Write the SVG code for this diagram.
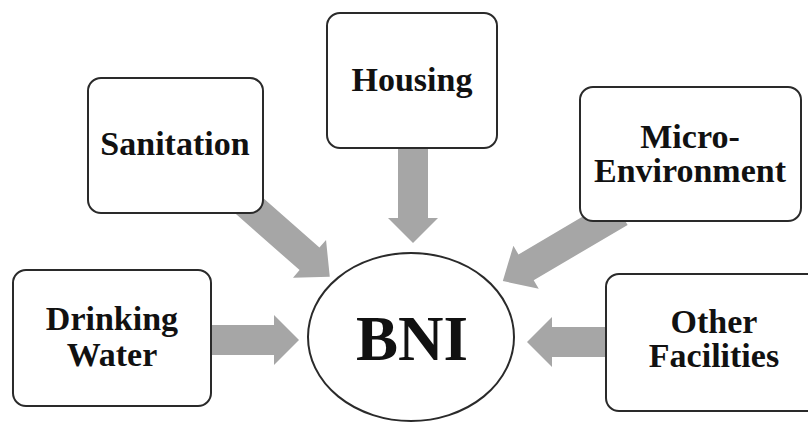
<svg xmlns="http://www.w3.org/2000/svg" width="808" height="426" viewBox="0 0 808 426">
<style>
.box{fill:#fff;stroke:#2a2a2a;stroke-width:2}
.arr{fill:#a6a6a6;stroke:none}
.lbl{font-weight:bold;font-size:34px;fill:#111;text-anchor:middle}
.big{font-size:63px}
</style>
<rect width="808" height="426" fill="#fff"/>
<g id="connectors">
<path class="arr" d="M211,325 L274,325 L274,315 L299,340 L274,365 L274,355 L211,355 Z"/>
<path class="arr" d="M606,327 L552,327 L552,317 L527,342 L552,367 L552,357 L606,357 Z"/>
<path class="arr" d="M398,148 L398,218 L388,218 L413,243 L438,218 L428,218 L428,148 Z"/>
<path class="arr" transform="translate(245,202) rotate(41.4)" d="M0,-15 L86,-15 L86,-25 L113,0 L86,25 L86,15 L0,15 Z"/>
<path class="arr" transform="translate(620,212) rotate(149.5)" d="M0,-15 L109,-15 L109,-25 L136,0 L109,25 L109,15 L0,15 Z"/>
</g>
<g font-family="Liberation Serif, DejaVu Serif, serif">
<g id="sanitation">
<rect class="box" x="88" y="78" width="175" height="135" rx="13"/>
<text class="lbl" x="175" y="155">Sanitation</text>
</g>
<g id="housing">
<rect class="box" x="327" y="13" width="170" height="135" rx="13"/>
<text class="lbl" x="412" y="91">Housing</text>
</g>
<g id="micro-environment">
<rect class="box" x="580" y="87" width="221" height="134" rx="13"/>
<text class="lbl" x="690" y="148">Micro-</text>
<text class="lbl" x="690" y="182">Environment</text>
</g>
<g id="drinking-water">
<rect class="box" x="13" y="270" width="198" height="136" rx="13"/>
<text class="lbl" x="112" y="330">Drinking</text>
<text class="lbl" x="112" y="366">Water</text>
</g>
<g id="other-facilities">
<rect class="box" x="606" y="274" width="220" height="137" rx="13"/>
<text class="lbl" x="714" y="333">Other</text>
<text class="lbl" x="714" y="367">Facilities</text>
</g>
<g id="bni">
<ellipse class="box" cx="411" cy="337" rx="103" ry="84"/>
<text class="lbl big" x="412" y="360">BNI</text>
</g>
</g>
</svg>
